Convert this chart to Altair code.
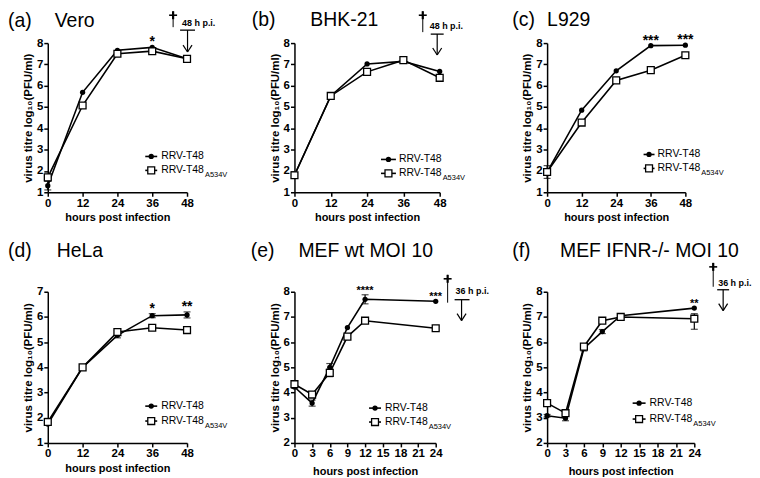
import altair as alt
import pandas as pd

FONT = "Liberation Sans"
SERIES = ["RRV-T48", "RRV-T48A534V"]
LEGEND_MAIN = "RRV-T48"
LEGEND_SUB = "A534V"
X_TITLE = "hours post infection"
Y_TITLE = "virus titre log\u2081\u2080(PFU/ml)"

HOURS_48 = [0, 12, 24, 36, 48]
HOURS_24 = [0, 3, 6, 9, 12, 24]
TICKS_48 = [0, 12, 24, 36, 48]
TICKS_24 = [0, 3, 6, 9, 12, 15, 18, 21, 24]

# (a) Vero
VERO_T48 = [1.31, 5.69, 7.66, 7.80, 7.26]
VERO_MUT = [1.70, 5.07, 7.50, 7.62, 7.26]
VERO_T48_ERR = [0.2, 0, 0, 0, 0]
VERO_MUT_ERR = [0.1, 0, 0, 0, 0]
VERO_STARS = [(36, "*")]

# (b) BHK-21
BHK_T48 = [1.80, 5.52, 7.02, 7.14, 6.67]
BHK_MUT = [1.80, 5.52, 6.65, 7.20, 6.37]
BHK_T48_ERR = [0, 0, 0, 0, 0]
BHK_MUT_ERR = [0, 0, 0, 0, 0]
BHK_STARS = []

# (c) L929
L929_T48 = [1.95, 4.85, 6.70, 7.88, 7.90]
L929_MUT = [1.95, 4.27, 6.25, 6.73, 7.43]
L929_T48_ERR = [0.3, 0, 0, 0, 0]
L929_MUT_ERR = [0, 0, 0, 0, 0]
L929_STARS = [(36, "***"), (48, "***")]

# (d) HeLa
HELA_T48 = [1.75, 4.00, 5.27, 6.05, 6.08]
HELA_MUT = [1.83, 4.00, 5.40, 5.57, 5.48]
HELA_T48_ERR = [0.05, 0, 0.1, 0.08, 0.12]
HELA_MUT_ERR = [0, 0, 0.05, 0, 0]
HELA_STARS = [(36, "*"), (48, "**")]

# (e) MEF wt MOI 10
MEFWT_T48 = [4.22, 3.58, 5.00, 6.58, 7.70, 7.62]
MEFWT_MUT = [4.33, 3.92, 4.78, 6.22, 6.85, 6.55]
MEFWT_T48_ERR = [0.05, 0.12, 0.15, 0, 0.18, 0]
MEFWT_MUT_ERR = [0.05, 0.05, 0.15, 0.05, 0.1, 0.1]
MEFWT_STARS = [(12, "****"), (24, "***")]

# (f) MEF IFNR-/- MOI 10
MEFKO_T48 = [3.08, 2.98, 5.75, 6.42, 7.05, 7.35]
MEFKO_MUT = [3.58, 3.18, 5.82, 6.85, 7.00, 6.93]
MEFKO_T48_ERR = [0.05, 0.1, 0.1, 0.08, 0.03, 0]
MEFKO_MUT_ERR_HI = [0, 0.05, 0, 0.05, 0.05, 0.2]
MEFKO_MUT_ERR_LO = [0, 0.05, 0, 0.05, 0.05, 0.42]
MEFKO_STARS = [(24, "**")]

ONE = pd.DataFrame({"k": [0]})


def seg(x1, y1, x2, y2, sw=1.2):
    return alt.Chart(ONE).mark_rule(color="black", strokeWidth=sw).encode(
        x=alt.value(x1), y=alt.value(y1), x2=alt.value(x2), y2=alt.value(y2))


def txt(x, y, text, size, weight="normal", baseline="alphabetic"):
    return alt.Chart(ONE).mark_text(
        text=text, font=FONT, fontSize=size, fontWeight=weight, color="black",
        align="left", baseline=baseline).encode(x=alt.value(x), y=alt.value(y))


def sym(x, y, circle):
    if circle:
        m = alt.Chart(ONE).mark_point(shape="circle", filled=True, color="black", size=28, opacity=1)
    else:
        m = alt.Chart(ONE).mark_point(shape="square", filled=True, fill="white", stroke="black",
                                      strokeWidth=1.3, size=48, opacity=1)
    return m.encode(x=alt.value(x), y=alt.value(y))


def panel(p):
    hours = p["hours"]
    rows = []
    for i, h in enumerate(hours):
        rows.append(dict(hour=h, value=p["t48"][i], series=SERIES[0],
                         lo=p["t48"][i] - p["t48_lo"][i], hi=p["t48"][i] + p["t48_hi"][i]))
        rows.append(dict(hour=h, value=p["mut"][i], series=SERIES[1],
                         lo=p["mut"][i] - p["mut_lo"][i], hi=p["mut"][i] + p["mut_hi"][i]))
    df = pd.DataFrame(rows)
    ymin, ymax = p["ydom"]
    xs = alt.Scale(domain=[0, hours[-1]], nice=False, zero=False)
    ys = alt.Scale(domain=[ymin, ymax], nice=False, zero=False)
    xax = alt.Axis(values=p["ticks"], title=X_TITLE, titleFontSize=11, titlePadding=p["xtp"])
    yax = alt.Axis(values=list(range(ymin, ymax + 1)), title=Y_TITLE, titleFontSize=11.5, format="d")
    X = alt.X("hour:Q", scale=xs, axis=xax)

    base = alt.Chart(df)
    lines = base.mark_line(color="black", strokeWidth=1.6).encode(
        x=X, y=alt.Y("value:Q", scale=ys, axis=yax), detail="series:N")
    errd = base.transform_filter("datum.hi - datum.lo > 0.001")
    err = errd.mark_rule(color="black", strokeWidth=1.2).encode(
        x=X, y=alt.Y("lo:Q", scale=ys, axis=yax), y2="hi:Q")
    cap_lo = errd.mark_tick(orient="horizontal", size=7, thickness=1.2, color="black").encode(
        x=X, y=alt.Y("lo:Q", scale=ys, axis=yax))
    cap_hi = errd.mark_tick(orient="horizontal", size=7, thickness=1.2, color="black").encode(
        x=X, y=alt.Y("hi:Q", scale=ys, axis=yax))
    circ = base.transform_filter(alt.datum.series == SERIES[0]).mark_point(
        shape="circle", filled=True, color="black", size=28, opacity=1).encode(
        x=X, y=alt.Y("value:Q", scale=ys, axis=yax))
    sq = base.transform_filter(alt.datum.series == SERIES[1]).mark_point(
        shape="square", filled=True, fill="white", stroke="black", strokeWidth=1.3,
        size=48, opacity=1).encode(x=X, y=alt.Y("value:Q", scale=ys, axis=yax))
    layers = [lines, err, cap_lo, cap_hi, circ, sq]

    if p["stars"]:
        srows = []
        for h, lab in p["stars"]:
            top = df[df.hour == h].hi.max()
            srows.append(dict(hour=h, label=lab, top=top))
        stars = alt.Chart(pd.DataFrame(srows)).mark_text(
            font=FONT, fontSize=p["star_size"], fontWeight="bold", color="black",
            baseline="alphabetic", dy=-1).encode(
            x=X, y=alt.Y("top:Q", scale=ys, axis=yax), text="label:N")
        layers.append(stars)

    # legend
    lx1, lx2, tx, r1, r2 = p["legend"]
    mx = (lx1 + lx2) / 2
    layers += [seg(lx1, r1, lx2, r1, 1.6), sym(mx, r1, True),
               seg(lx1, r2, lx2, r2, 1.6), sym(mx, r2, False),
               txt(tx, r1, LEGEND_MAIN, 10.5, baseline="middle"),
               txt(tx, r2, LEGEND_MAIN, 10.5, baseline="middle"),
               txt(tx + 44, r2 + 6.5, LEGEND_SUB, 7.5)]

    # title
    (lx, nx, by), (tag, name) = p["title_pos"], p["title"]
    layers += [txt(lx, by, tag, 19.5), txt(nx, by, name, 19.5)]

    # death cross + arrow annotation
    if p.get("ann"):
        a = p["ann"]
        cx, ctop, cbot = a["cross"]
        layers += [seg(cx, ctop, cx, ctop + 8, 2.2), seg(cx - 4, ctop + 4, cx + 4, ctop + 4, 1.6),
                   seg(cx, ctop, cx, cbot, 1.0)]
        ltx, lty, ltext = a["label"]
        layers.append(txt(ltx, lty, ltext, 9, weight="bold"))
        bx1, bx2, by2 = a["bar"]
        layers.append(seg(bx1, by2, bx2, by2, 1.3))
        ax, ay1, ay2 = a["arrow"]
        layers += [seg(ax, ay1, ax, ay2, 1.2), seg(ax - 4.5, ay2 - 7, ax, ay2, 1.2),
                   seg(ax + 4.5, ay2 - 7, ax, ay2, 1.2)]

    return alt.layer(*layers).properties(width=p["w"], height=p["h"])


PANELS = [
    dict(hours=HOURS_48, ticks=TICKS_48, ydom=(1, 8), w=140, h=150, xtp=3,
         t48=VERO_T48, mut=VERO_MUT, t48_lo=VERO_T48_ERR, t48_hi=VERO_T48_ERR,
         mut_lo=VERO_MUT_ERR, mut_hi=VERO_MUT_ERR, stars=VERO_STARS, star_size=14,
         legend=(98, 110, 114, 114, 128), title=("(a)", "Vero"), title_pos=(-40, 7, -16),
         ann=dict(cross=(126, -32, -16), label=(135, -17, "48 h p.i."),
                  bar=(133, 148, -13), arrow=(140.5, -13, 9))),
    dict(hours=HOURS_48, ticks=TICKS_48, ydom=(1, 8), w=146, h=150, xtp=3,
         t48=BHK_T48, mut=BHK_MUT, t48_lo=BHK_T48_ERR, t48_hi=BHK_T48_ERR,
         mut_lo=BHK_MUT_ERR, mut_hi=BHK_MUT_ERR, stars=BHK_STARS, star_size=14,
         legend=(87, 102, 105, 117, 131), title=("(b)", "BHK-21"), title_pos=(-43, 16, -17),
         ann=dict(cross=(129, -32, -11), label=(136, -14, "48 h p.i."),
                  bar=(137, 150, -9), arrow=(143.5, -9, 12))),
    dict(hours=HOURS_48, ticks=TICKS_48, ydom=(1, 8), w=139, h=150, xtp=3,
         t48=L929_T48, mut=L929_MUT, t48_lo=L929_T48_ERR, t48_hi=L929_T48_ERR,
         mut_lo=L929_MUT_ERR, mut_hi=L929_MUT_ERR, stars=L929_STARS, star_size=14,
         legend=(97, 108, 111, 112, 126), title=("(c)", "L929"), title_pos=(-35, 0, -17)),
    dict(hours=HOURS_48, ticks=TICKS_48, ydom=(1, 7), w=140, h=152, xtp=3,
         t48=HELA_T48, mut=HELA_MUT, t48_lo=HELA_T48_ERR, t48_hi=HELA_T48_ERR,
         mut_lo=HELA_MUT_ERR, mut_hi=HELA_MUT_ERR, stars=HELA_STARS, star_size=14,
         legend=(98, 110, 114, 115, 130), title=("(d)", "HeLa"), title_pos=(-40, 9, -35)),
    dict(hours=HOURS_24, ticks=TICKS_24, ydom=(2, 8), w=142, h=152, xtp=6,
         t48=MEFWT_T48, mut=MEFWT_MUT, t48_lo=MEFWT_T48_ERR, t48_hi=MEFWT_T48_ERR,
         mut_lo=MEFWT_MUT_ERR, mut_hi=MEFWT_MUT_ERR, stars=MEFWT_STARS, star_size=11,
         legend=(75, 87, 91, 117, 131), title=("(e)", "MEF wt MOI 10"), title_pos=(-44, 4, -35),
         ann=dict(cross=(154, -17, 11), label=(162, 2, "36 h p.i."),
                  bar=(161, 176, 8), arrow=(168, 8, 29))),
    dict(hours=HOURS_24, ticks=TICKS_24, ydom=(2, 8), w=148, h=152, xtp=6,
         t48=MEFKO_T48, mut=MEFKO_MUT, t48_lo=MEFKO_T48_ERR, t48_hi=MEFKO_T48_ERR,
         mut_lo=MEFKO_MUT_ERR_LO, mut_hi=MEFKO_MUT_ERR_HI, stars=MEFKO_STARS, star_size=11,
         legend=(86, 99, 103, 112, 128), title=("(f)", "MEF IFNR-/- MOI 10"), title_pos=(-35, 13, -35),
         ann=dict(cross=(167, -29, -5), label=(172, -6, "36 h p.i."),
                  bar=(171, 183, -2), arrow=(177, -2, 19))),
]

charts = [panel(p) for p in PANELS]

chart = alt.concat(
    *charts, columns=3, bounds="flush",
    spacing=alt.RowColnumber(row=100, column=108),
).properties(
    padding={"left": 0, "top": 0, "right": 0, "bottom": 0},
    background="white",
).configure_view(stroke=None).configure_axis(
    domainColor="black", domainWidth=1.5, tickColor="black", tickWidth=1.5, tickSize=4,
    labelColor="black", labelFont=FONT, labelFontSize=11.5, labelFontWeight="bold",
    titleFont=FONT, titleFontWeight="bold", titleColor="black", grid=False,
    labelPadding=1, titlePadding=3, labelFlush=False, labelOverlap=False,
)

chart.save("out.html", embed_options={"renderer": "svg", "actions": False})
